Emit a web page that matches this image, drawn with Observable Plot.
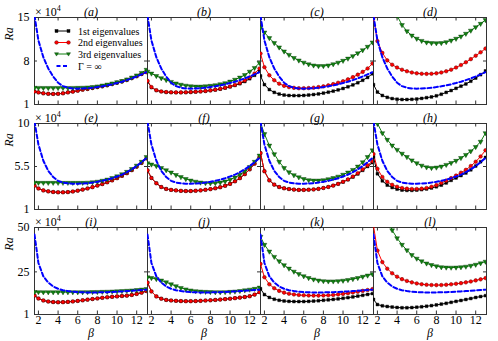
<!DOCTYPE html>
<html><head><meta charset="utf-8">
<script src="https://cdn.jsdelivr.net/npm/d3@7"></script>
<script src="https://cdn.jsdelivr.net/npm/@observablehq/plot@0.6"></script>
<style>
body{margin:0;background:#fff;}
#wrap{position:relative;width:498px;height:341px;overflow:hidden;font-family:"Liberation Serif","Times New Roman",serif;background:#fff;}
.rowplot{position:absolute;left:0;}
.ov{position:absolute;white-space:nowrap;color:#000;line-height:1;font-family:"Liberation Serif","Times New Roman",serif;}
.ra{font-style:italic;font-size:12px;transform:translate(-50%,-50%) rotate(-90deg);}
.mult{font-size:12px;}
.mult sup{font-size:8px;vertical-align:5px;}
</style></head><body><div id="wrap"></div>
<script>
// ---- data ----
const beta = [1.6, 2.0, 2.5, 3.0, 3.5, 4.0, 4.5, 5.0, 5.5, 6.0, 6.5, 7.0, 7.5, 8.0, 8.5, 9.0, 9.5, 10.0, 10.5, 11.0, 11.5, 12.0, 12.5, 13.0];
const xTicks = [2, 4, 6, 8, 10, 12];
const yTicks1 = [1, 8, 15];
const yTicks2 = [1, 5.5, 10];
const yTicks3 = [1, 25, 50];
const panels1 = ["a", "b", "c", "d"];
const panels2 = ["e", "f", "g", "h"];
const panels3 = ["i", "j", "k", "l"];
const legendLabels = ["1st eigenvalues", "2nd eigenvalues", "3rd eigenvalues", "\u0393 = \u221e"];

// Gamma = infinity curves (one per row)
const inf1 = [15.3, 11.3, 8.6, 6.8, 5.5, 4.5, 3.95, 3.7, 3.58, 3.55, 3.57, 3.62, 3.7, 3.8, 3.93, 4.08, 4.25, 4.45, 4.67, 4.92, 5.2, 5.5, 5.85, 6.2];
const inf2 = [10.2, 7.8, 6.1, 5.05, 4.4, 4.0, 3.82, 3.74, 3.7, 3.7, 3.72, 3.76, 3.82, 3.9, 4.0, 4.12, 4.27, 4.45, 4.65, 4.9, 5.2, 5.55, 5.95, 6.4];
const inf3 = [46, 30, 22.5, 19.0, 16.8, 15.5, 14.7, 14.2, 13.8, 13.6, 13.5, 13.4, 13.4, 13.45, 13.5, 13.6, 13.7, 13.85, 14.0, 14.2, 14.4, 14.6, 14.8, 15.0];

// row 1 (x10^4)
const a1 = [3.1, 2.95, 2.8, 2.72, 2.7, 2.72, 2.8, 2.95, 3.07, 3.22, 3.38, 3.5, 3.65, 3.8, 3.93, 4.1, 4.3, 4.5, 4.7, 4.95, 5.25, 5.55, 5.9, 6.2];
const a2 = [3.1, 2.95, 2.8, 2.72, 2.7, 2.72, 2.8, 2.95, 3.07, 3.22, 3.38, 3.5, 3.65, 3.8, 3.93, 4.1, 4.3, 4.5, 4.7, 4.95, 5.25, 5.55, 5.9, 6.2];
const a3 = [3.7, 3.69, 3.68, 3.68, 3.68, 3.68, 3.68, 3.68, 3.69, 3.7, 3.72, 3.76, 3.82, 3.93, 4.07, 4.22, 4.4, 4.6, 4.8, 5.05, 5.35, 5.7, 6.1, 6.6];
const b1 = [4.7, 3.75, 3.28, 3.08, 2.98, 2.95, 2.93, 2.93, 2.95, 2.98, 3.03, 3.08, 3.15, 3.25, 3.35, 3.48, 3.65, 3.85, 4.08, 4.35, 4.7, 5.15, 5.7, 6.35];
const b2 = [4.8, 3.8, 3.3, 3.1, 3.0, 2.97, 2.95, 2.95, 2.97, 3.0, 3.05, 3.1, 3.17, 3.27, 3.38, 3.52, 3.7, 3.9, 4.15, 4.45, 4.85, 5.35, 6.0, 6.8];
const b3 = [6.3, 6.0, 5.6, 5.25, 4.95, 4.65, 4.4, 4.2, 4.05, 3.95, 3.9, 3.9, 3.95, 4.02, 4.12, 4.27, 4.45, 4.7, 5.0, 5.35, 5.75, 6.3, 6.9, 7.7];
const c1 = [5.6, 4.2, 3.4, 2.95, 2.68, 2.52, 2.45, 2.43, 2.43, 2.46, 2.52, 2.6, 2.7, 2.83, 2.98, 3.15, 3.35, 3.58, 3.85, 4.15, 4.5, 4.9, 5.35, 5.95];
const c2 = [9.2, 7.0, 5.7, 4.9, 4.35, 4.0, 3.8, 3.68, 3.62, 3.62, 3.65, 3.7, 3.8, 3.92, 4.08, 4.28, 4.5, 4.75, 5.05, 5.4, 5.8, 6.25, 6.8, 7.6];
const c3 = [13.4, 12.6, 11.7, 10.9, 10.2, 9.55, 9.0, 8.5, 8.1, 7.75, 7.48, 7.3, 7.2, 7.2, 7.3, 7.5, 7.75, 8.05, 8.4, 8.8, 9.25, 9.75, 10.3, 11.0];
const d1 = [4.2, 3.0, 2.45, 2.15, 1.95, 1.85, 1.8, 1.8, 1.83, 1.88, 1.98, 2.1, 2.22, 2.4, 2.65, 2.95, 3.25, 3.6, 3.95, 4.3, 4.75, 5.25, 5.8, 6.4];
const d2 = [15.0, 11.2, 9.3, 8.1, 7.4, 6.95, 6.6, 6.35, 6.15, 6.02, 5.95, 5.93, 5.95, 6.02, 6.15, 6.35, 6.6, 6.95, 7.35, 7.8, 8.3, 8.85, 9.4, 10.0];
const d3 = [34, 28.5, 24, 20.5, 17.6, 15.3, 13.8, 12.8, 12.1, 11.6, 11.25, 11.0, 10.9, 10.88, 10.9, 11.05, 11.3, 11.6, 11.95, 12.4, 12.9, 13.45, 14.0, 14.6];

// row 2 (x10^4)
const e1 = [3.5, 3.2, 3.0, 2.9, 2.83, 2.8, 2.8, 2.82, 2.88, 2.97, 3.08, 3.2, 3.34, 3.5, 3.66, 3.85, 4.05, 4.28, 4.52, 4.8, 5.12, 5.48, 5.88, 6.35];
const e2 = [3.5, 3.2, 3.0, 2.9, 2.83, 2.8, 2.8, 2.82, 2.88, 2.97, 3.08, 3.2, 3.34, 3.5, 3.66, 3.85, 4.05, 4.28, 4.52, 4.8, 5.12, 5.48, 5.88, 6.35];
const e3 = [3.82, 3.8, 3.8, 3.8, 3.8, 3.8, 3.8, 3.8, 3.8, 3.8, 3.8, 3.82, 3.86, 3.92, 4.02, 4.14, 4.3, 4.48, 4.7, 4.95, 5.25, 5.6, 6.0, 6.5];
const f1 = [5.1, 4.3, 3.75, 3.35, 3.15, 3.05, 3.0, 2.95, 2.93, 2.93, 2.96, 3.0, 3.06, 3.13, 3.22, 3.33, 3.48, 3.68, 3.95, 4.28, 4.7, 5.2, 5.8, 6.5];
const f2 = [5.1, 4.3, 3.75, 3.35, 3.15, 3.05, 3.0, 2.95, 2.93, 2.93, 2.96, 3.0, 3.06, 3.13, 3.22, 3.33, 3.48, 3.68, 3.95, 4.28, 4.7, 5.2, 5.8, 6.5];
const f3 = [5.85, 5.72, 5.55, 5.35, 5.12, 4.88, 4.62, 4.4, 4.2, 4.04, 3.92, 3.83, 3.77, 3.75, 3.77, 3.83, 3.95, 4.12, 4.35, 4.65, 5.0, 5.45, 6.0, 6.65];
const g1 = [6.9, 5.0, 4.05, 3.6, 3.35, 3.22, 3.14, 3.08, 3.05, 3.05, 3.07, 3.1, 3.16, 3.25, 3.36, 3.5, 3.68, 3.88, 4.12, 4.4, 4.72, 5.1, 5.5, 5.9];
const g2 = [6.9, 5.0, 4.05, 3.6, 3.35, 3.22, 3.14, 3.08, 3.05, 3.05, 3.07, 3.1, 3.16, 3.25, 3.36, 3.5, 3.68, 3.9, 4.15, 4.45, 4.8, 5.2, 5.62, 6.05];
const g3 = [10.1, 8.9, 7.7, 6.8, 6.0, 5.35, 4.9, 4.6, 4.38, 4.2, 4.08, 4.04, 4.04, 4.08, 4.18, 4.3, 4.45, 4.65, 4.88, 5.15, 5.5, 5.95, 6.5, 7.2];
const h1 = [6.5, 4.74, 4.0, 3.55, 3.3, 3.13, 3.03, 3.0, 3.0, 3.03, 3.08, 3.15, 3.25, 3.38, 3.55, 3.78, 4.05, 4.3, 4.55, 4.82, 5.15, 5.55, 6.0, 6.45];
const h2 = [6.8, 5.26, 4.4, 3.9, 3.58, 3.38, 3.25, 3.18, 3.15, 3.15, 3.18, 3.25, 3.38, 3.55, 3.78, 4.02, 4.28, 4.55, 4.85, 5.15, 5.55, 6.0, 6.55, 7.2];
const h3 = [11.5, 10.0, 9.0, 8.3, 7.7, 7.25, 6.85, 6.5, 6.15, 5.85, 5.6, 5.42, 5.36, 5.4, 5.5, 5.68, 5.88, 6.1, 6.4, 6.72, 7.1, 7.55, 8.1, 9.0];

// row 3 (x10^4)
const i1 = [11.7, 10.0, 8.9, 8.3, 8.0, 7.9, 7.95, 8.1, 8.35, 8.65, 9.0, 9.35, 9.7, 10.05, 10.4, 10.7, 10.95, 11.2, 11.4, 11.6, 12.0, 12.6, 13.3, 14.2];
const i2 = [11.7, 10.0, 8.9, 8.3, 8.0, 7.9, 7.95, 8.1, 8.35, 8.65, 9.0, 9.35, 9.7, 10.05, 10.4, 10.7, 10.95, 11.2, 11.4, 11.6, 12.0, 12.6, 13.3, 14.2];
const i3 = [13.7, 13.65, 13.6, 13.6, 13.6, 13.6, 13.6, 13.6, 13.6, 13.6, 13.62, 13.65, 13.7, 13.75, 13.82, 13.9, 14.0, 14.1, 14.25, 14.4, 14.6, 14.85, 15.1, 15.4];
const j1 = [19.0, 14.0, 11.2, 9.9, 9.2, 8.9, 8.7, 8.55, 8.5, 8.5, 8.55, 8.7, 8.85, 9.0, 9.2, 9.4, 9.65, 9.9, 10.2, 10.5, 10.85, 11.3, 12.2, 13.6];
const j2 = [19.0, 14.0, 11.2, 9.9, 9.2, 8.9, 8.7, 8.55, 8.5, 8.5, 8.55, 8.7, 8.85, 9.0, 9.2, 9.4, 9.65, 9.9, 10.2, 10.5, 10.85, 11.3, 12.2, 13.6];
const j3 = [22.0, 21.6, 21.0, 20.2, 19.2, 18.1, 17.0, 16.0, 15.2, 14.6, 14.2, 13.95, 13.8, 13.7, 13.62, 13.6, 13.65, 13.8, 14.0, 14.3, 14.65, 15.05, 15.5, 16.2];
const k1 = [15.5, 12.2, 10.6, 9.6, 9.0, 8.6, 8.4, 8.3, 8.28, 8.3, 8.4, 8.55, 8.75, 9.0, 9.25, 9.5, 9.8, 10.15, 10.5, 10.9, 11.35, 11.8, 12.3, 12.8];
const k2 = [29.5, 22.0, 18.0, 15.8, 14.3, 13.3, 12.7, 12.3, 12.0, 11.8, 11.7, 11.65, 11.65, 11.7, 11.8, 12.0, 12.3, 12.6, 13.0, 13.4, 13.8, 14.3, 14.8, 15.3];
const k3 = [44.8, 40.3, 36.5, 33.5, 31.0, 28.8, 26.9, 25.2, 23.8, 22.6, 21.6, 20.8, 20.2, 19.85, 19.7, 19.7, 19.85, 20.1, 20.5, 21.0, 21.6, 22.3, 23.0, 23.7];
const l1 = [9.5, 6.6, 5.9, 5.5, 5.2, 4.95, 4.8, 4.8, 4.9, 5.1, 5.35, 5.65, 6.0, 6.4, 6.85, 7.3, 7.85, 8.4, 8.9, 9.45, 10.0, 10.6, 11.1, 11.6];
const l2 = [51, 37, 30.5, 26.8, 24.2, 22.3, 20.9, 19.9, 19.1, 18.5, 18.05, 17.75, 17.6, 17.55, 17.6, 17.75, 18.0, 18.3, 18.65, 19.1, 19.6, 20.2, 20.8, 21.5];
const l3 = [95, 80, 66, 56, 48.5, 44.0, 40.3, 37.2, 34.5, 32.5, 31.0, 29.8, 28.9, 28.2, 27.7, 27.5, 27.45, 27.5, 27.7, 28.0, 28.5, 29.1, 29.9, 30.8];

// ---- styles ----
const BLACK = "#000000", RED = "#ff0000", GREEN = "#118011", BLUE = "#0000ff";
const FONT = '"Liberation Serif", "Times New Roman", serif';

const rowsSpec = [
  {panels: panels1, s: [[a1, b1, c1, d1], [a2, b2, c2, d2], [a3, b3, c3, d3]], inf: inf1, ticks: yTicks1, top: 0, fh: 87, mb: 2, xaxis: false},
  {panels: panels2, s: [[e1, f1, g1, h1], [e2, f2, g2, h2], [e3, f3, g3, h3]], inf: inf2, ticks: yTicks2, top: 106, fh: 86, mb: 1, xaxis: false},
  {panels: panels3, s: [[i1, j1, k1, l1], [i2, j2, k2, l2], [i3, j3, k3, l3]], inf: inf3, ticks: yTicks3, top: 210, fh: 87, mb: 27, xaxis: true}
];

const wrap = document.getElementById("wrap");
const W = 498, ML = 33, MR = 11, MT = 17;
const facetW = (W - ML - MR) / 4;

rowsSpec.forEach(r => {
  const recs = [];
  r.panels.forEach((p, j) => {
    r.s.forEach((series, k) => {
      series[j].forEach((v, i) => recs.push({panel: p, series: k, beta: beta[i], ra: v}));
    });
  });
  const infRecs = r.inf.map((v, i) => ({beta: beta[i], ra: v}));
  const sel = k => recs.filter(d => d.series === k);
  const colors = [BLACK, RED, GREEN];
  const marks = [
    Plot.frame({stroke: "#333", strokeWidth: 1}),
    Plot.tickX(xTicks, {x: d => d, insetTop: r.fh - 3.5, stroke: "#333"}),
    Plot.tickX(xTicks, {x: d => d, insetBottom: r.fh - 3.5, stroke: "#333"}),
    Plot.tickY(r.ticks, {y: d => d, insetRight: facetW - 3.5, stroke: "#333"}),
    Plot.tickY(r.ticks, {y: d => d, insetLeft: facetW - 3.5, stroke: "#333"}),
    Plot.axisY({anchor: "left", ticks: r.ticks, tickFormat: d => String(d), tickSize: 0, tickPadding: 5, label: null, fontSize: 12, fontFamily: FONT}),
    Plot.axisFx({anchor: "top", tickFormat: d => `(${d})`, tickSize: 0, tickPadding: 2, label: null, fontStyle: "italic", fontSize: 12, fontFamily: FONT})
  ];
  [0, 1, 2].forEach(k => {
    marks.push(Plot.line(sel(k), {x: "beta", y: "ra", fx: "panel", stroke: colors[k], strokeWidth: 1, clip: true}));
  });
  marks.push(Plot.dot(sel(0), {x: "beta", y: "ra", fx: "panel", symbol: "square", r: 1.6, fill: BLACK, stroke: "#000", strokeWidth: 0.4, clip: true}));
  marks.push(Plot.dot(sel(1), {x: "beta", y: "ra", fx: "panel", symbol: "circle", r: 1.8, fill: RED, stroke: "#600", strokeWidth: 0.5, clip: true}));
  marks.push(Plot.dot(sel(2), {x: "beta", y: "ra", fx: "panel", symbol: "triangle", rotate: 180, r: 1.8, fill: GREEN, stroke: "#030", strokeWidth: 0.4, clip: true}));
  marks.push(Plot.line(infRecs, {x: "beta", y: "ra", stroke: BLUE, strokeWidth: 2, strokeDasharray: "4,2.5", clip: true}));
  if (r.xaxis) {
    marks.push(Plot.axisX({anchor: "bottom", ticks: xTicks, tickSize: 0, tickPadding: 1, label: null, fontSize: 12, fontFamily: FONT}));
    marks.push(Plot.text(["\u03b2"], {frameAnchor: "bottom", lineAnchor: "middle", dy: 19, fontStyle: "italic", fontSize: 12, fontFamily: FONT}));
  }
  const chart = Plot.plot({
    width: W,
    height: MT + r.fh + r.mb,
    marginLeft: ML, marginRight: MR, marginTop: MT, marginBottom: r.mb,
    style: {fontFamily: FONT, fontSize: "12px", background: "transparent", overflow: "visible"},
    fx: {domain: r.panels, padding: 0, axis: null},
    x: {domain: [1.6, 13.1], axis: null},
    y: {domain: [r.ticks[0], r.ticks[2]], axis: null},
    marks
  });
  chart.classList.add("rowplot");
  chart.style.top = r.top + "px";
  wrap.appendChild(chart);

  // x10^4 multiplier and Ra label
  const m = document.createElement("div");
  m.className = "ov mult";
  m.innerHTML = "\u00d7 10<sup>4</sup>";
  m.style.left = "35px";
  m.style.top = (r.top + MT - 12) + "px";
  wrap.appendChild(m);
  const ra = document.createElement("div");
  ra.className = "ov ra";
  ra.textContent = "Ra";
  ra.style.left = "9px";
  ra.style.top = (r.top + MT + r.fh * 0.2) + "px";
  wrap.appendChild(ra);
});

// legend (inside panel a)
const ns = "http://www.w3.org/2000/svg";
const lg = document.createElementNS(ns, "svg");
lg.setAttribute("width", 498); lg.setAttribute("height", 341);
lg.style.position = "absolute"; lg.style.left = "0"; lg.style.top = "0";
lg.style.fontFamily = FONT; lg.style.fontSize = "10px";
const legendStyles = [
  {c: BLACK, m: "square"}, {c: RED, m: "circle"}, {c: GREEN, m: "tri"}, {c: BLUE, m: "dash"}
];
const ly = [31, 42.5, 54, 66];
legendLabels.forEach((lab, i) => {
  const st = legendStyles[i];
  const y = ly[i];
  const ln = document.createElementNS(ns, "line");
  ln.setAttribute("x1", 56.5); ln.setAttribute("x2", 68.5); ln.setAttribute("y1", y); ln.setAttribute("y2", y);
  ln.setAttribute("stroke", st.c);
  ln.setAttribute("stroke-width", st.m === "dash" ? 2 : 1);
  if (st.m === "dash") ln.setAttribute("stroke-dasharray", "4,2.5");
  lg.appendChild(ln);
  if (st.m !== "dash") {
    [56.5, 68.5].forEach(x => {
      let el;
      if (st.m === "square") {
        el = document.createElementNS(ns, "rect");
        el.setAttribute("x", x - 1.5); el.setAttribute("y", y - 1.5); el.setAttribute("width", 3); el.setAttribute("height", 3);
        el.setAttribute("stroke", "#000"); el.setAttribute("stroke-width", 0.4);
      } else if (st.m === "circle") {
        el = document.createElementNS(ns, "circle");
        el.setAttribute("cx", x); el.setAttribute("cy", y); el.setAttribute("r", 1.8);
        el.setAttribute("stroke", "#600"); el.setAttribute("stroke-width", 0.5);
      } else {
        el = document.createElementNS(ns, "path");
        el.setAttribute("d", `M${x - 2},${y - 1.3}L${x + 2},${y - 1.3}L${x},${y + 2.1}Z`);
        el.setAttribute("stroke", "#030"); el.setAttribute("stroke-width", 0.4);
      }
      el.setAttribute("fill", st.c);
      lg.appendChild(el);
    });
  }
  const t = document.createElementNS(ns, "text");
  t.setAttribute("x", 78); t.setAttribute("y", y); t.setAttribute("dy", "0.35em");
  t.textContent = lab;
  lg.appendChild(t);
});
wrap.appendChild(lg);
</script>
</body></html>
